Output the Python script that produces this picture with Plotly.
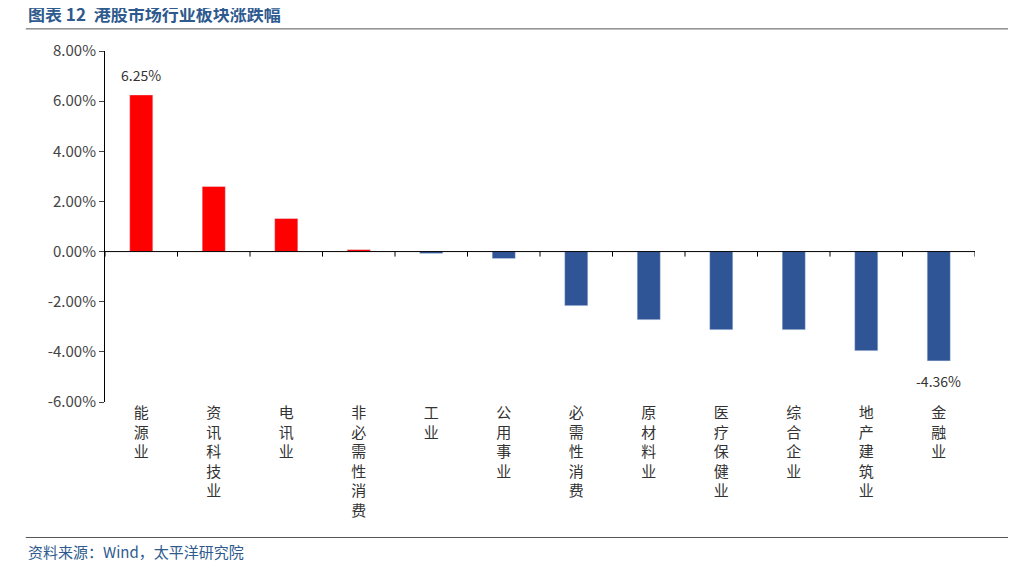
import plotly.graph_objects as go

categories = ["能源业","资讯科技业","电讯业","非必需性消费","工业","公用事业","必需性消费","原材料业","医疗保健业","综合企业","地产建筑业","金融业"]
values = [6.25, 2.60, 1.32, 0.08, -0.08, -0.28, -2.16, -2.72, -3.12, -3.12, -3.96, -4.36]
tick_vals = [-6, -4, -2, 0, 2, 4, 6, 8]
tick_text = ["-6.00%","-4.00%","-2.00%","0.00%","2.00%","4.00%","6.00%","8.00%"]

colors = ["#FF0000" if v > 0 else "#2F5597" for v in values]
labels = ["<br>".join(c) for c in categories]

fig = go.Figure(go.Bar(x=labels, y=values, marker_color=colors, width=0.32))
fig.add_annotation(x=labels[0], y=values[0], text=f"{values[0]:.2f}%", showarrow=False, yshift=20,
                   font=dict(size=14, color="#333"))
fig.add_annotation(x=labels[-1], y=values[-1], text=f"{values[-1]:.2f}%", showarrow=False, yshift=-20,
                   font=dict(size=14, color="#333"))
fig.update_layout(
    width=1018, height=567, plot_bgcolor="white", paper_bgcolor="white",
    margin=dict(l=97, r=51, t=43, b=173), showlegend=False,
    font=dict(family="Noto Sans CJK SC", size=14, color="#333"),
    xaxis=dict(showline=False, ticks="", tickangle=0, range=[-0.5, len(categories) - 0.5], tickfont=dict(size=15)),
    yaxis=dict(range=[-6, 8], tickvals=tick_vals, ticktext=tick_text, showline=True, linecolor="black",
               ticks="outside", ticklen=5, showgrid=False, zeroline=False, tickfont=dict(size=15, color="#444")),
)
fig.add_shape(type="line", xref="paper", yref="y", x0=0, x1=1, y0=0, y1=0, line=dict(color="black", width=1))
for i in range(len(categories) + 1):
    fig.add_shape(type="line", xref="x", yref="y", x0=i - 0.5, x1=i - 0.5, y0=0, y1=-0.2,
                  line=dict(color="black", width=1))
fig.add_annotation(xref="paper", yref="paper", x=-0.091, y=1.106, xanchor="left", yanchor="middle",
                   text="<b>图表 12  港股市场行业板块涨跌幅</b>",
                   showarrow=False, font=dict(size=17, color="#2E5A8E"))
fig.add_annotation(xref="paper", yref="paper", x=-0.091, y=-0.426, xanchor="left", yanchor="middle",
                   text="资料来源：Wind，太平洋研究院",
                   showarrow=False, font=dict(size=15, color="#2E5A8E"))
fig.add_shape(type="line", xref="paper", yref="paper", x0=-0.091, x1=1.038, y0=1.063, y1=1.063, line=dict(color="#555", width=1))
fig.add_shape(type="line", xref="paper", yref="paper", x0=-0.091, x1=1.038, y0=-0.386, y1=-0.386, line=dict(color="#555", width=1))
fig.write_html("out.html")
